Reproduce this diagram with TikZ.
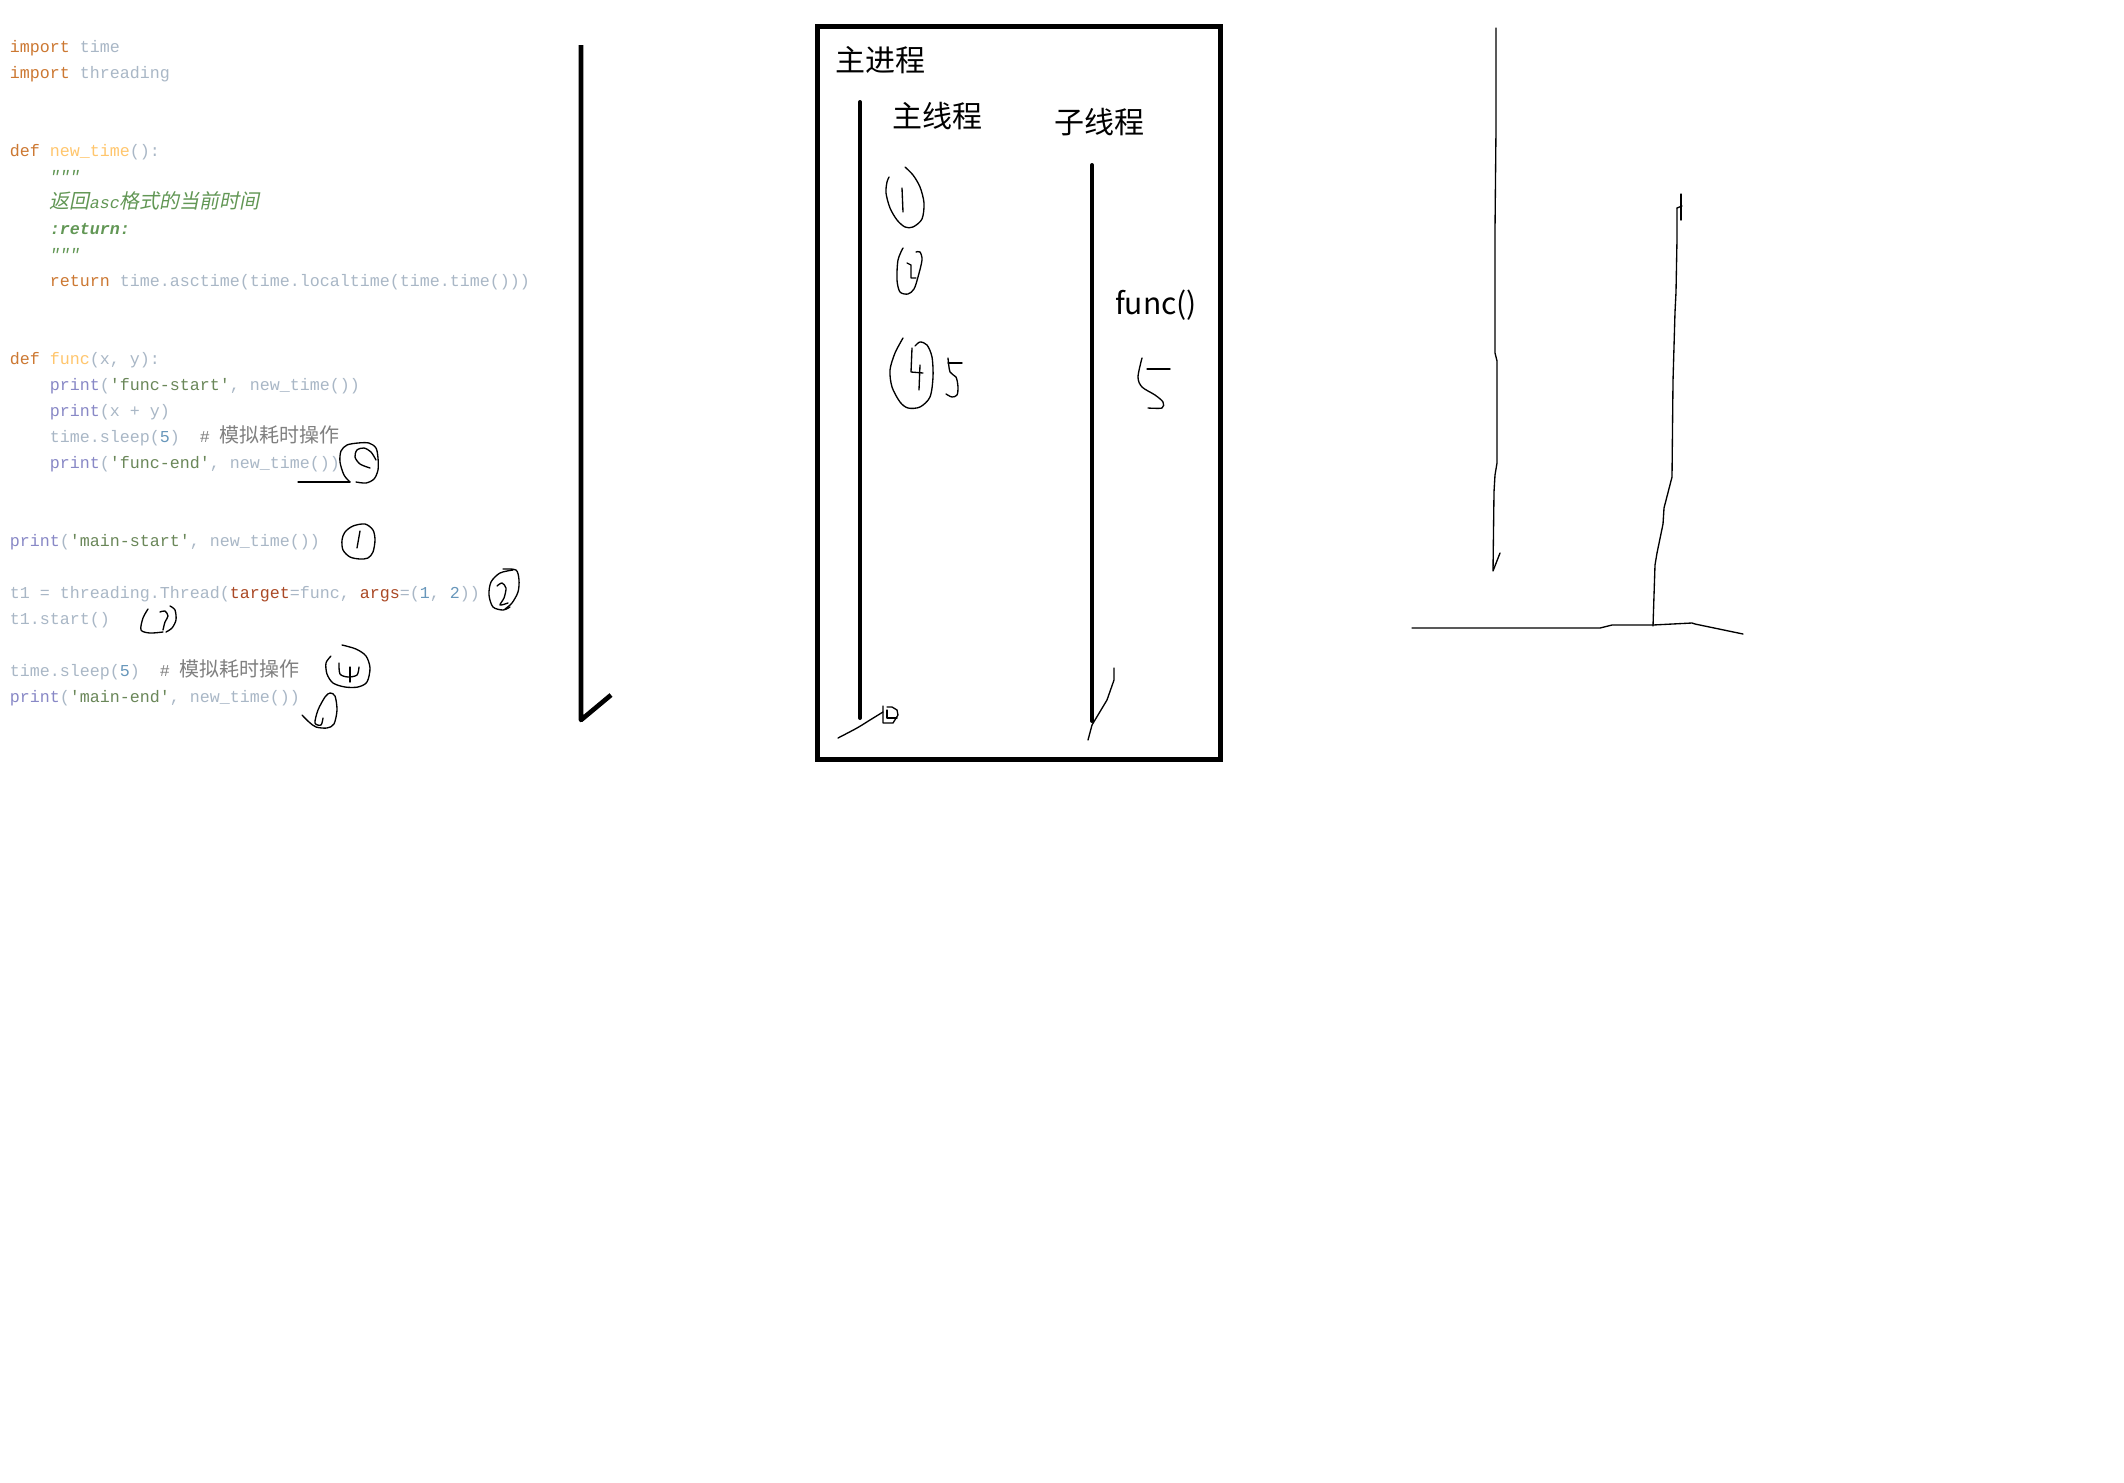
\documentclass[tikz,border=0pt]{standalone}
\usepackage{fontspec}
\newfontfamily\codefont{Liberation Mono}
\newfontfamily\codecjk[Scale=1.2]{Noto Sans CJK SC}
\newfontfamily\codecjkit[Scale=1.2,FakeSlant=0.2]{Noto Sans CJK SC}
\newfontfamily\cjk{Noto Sans CJK SC}
\definecolor{pykwc}{HTML}{CC7832}
\definecolor{pyidc}{HTML}{A9B7C6}
\definecolor{pyfnc}{HTML}{FFC66D}
\definecolor{pydocc}{HTML}{629755}
\definecolor{pybic}{HTML}{8888C6}
\definecolor{pystrc}{HTML}{6A8759}
\definecolor{pynumc}{HTML}{6897BB}
\definecolor{pycmtc}{HTML}{808080}
\definecolor{pyargc}{HTML}{AA4926}
\newcommand\pykw[1]{\textcolor{pykwc}{#1}}
\newcommand\pyfn[1]{\textcolor{pyfnc}{#1}}
\newcommand\pydoc[1]{\textcolor{pydocc}{#1}}
\newcommand\pybi[1]{\textcolor{pybic}{#1}}
\newcommand\pystr[1]{\textcolor{pystrc}{#1}}
\newcommand\pynum[1]{\textcolor{pynumc}{#1}}
\newcommand\pycmt[1]{\textcolor{pycmtc}{#1}}
\newcommand\pyarg[1]{\textcolor{pyargc}{#1}}
\tikzset{
  code/.style={anchor=base west, inner sep=0pt, text=pyidc, font={\codefont\fontsize{12.5}{15}\selectfont}},
  heading/.style={inner sep=0pt, font={\cjk\fontsize{22.5}{27}\selectfont}},
  pen/.style={line width=1pt, line cap=round, line join=round},
  bar/.style={line width=3pt, line cap=round}
}
\begin{document}
\begin{tikzpicture}[x=0.75pt, y=-0.75pt]
 \fill[white] (0,0) rectangle (2124,1482);
 \useasboundingbox (0,0) rectangle (2124,1482);
 % code
 \node[code] (ln0) at (9.5,52.5) {\pykw{import} time};
 \node[code] (ln1) at (9.5,78.5) {\pykw{import} threading};
 \node[code] (ln4) at (9.5,156.5) {\pykw{def} \pyfn{new\_time}():};
 \node[code] (ln5) at (49.5,182.5) {\pydoc{\itshape """}};
 \node[code] (ln6) at (49.5,208.5) {\pydoc{\itshape{\codecjkit 返回}asc{\codecjkit 格式的当前时间}}};
 \node[code] (ln7) at (49.5,234.5) {\pydoc{\bfseries\itshape :return:}};
 \node[code] (ln8) at (49.5,260.5) {\pydoc{\itshape """}};
 \node[code] (ln9) at (49.5,286.5) {\pykw{return} time.asctime(time.localtime(time.time()))};
 \node[code] (ln12) at (9.5,364.5) {\pykw{def} \pyfn{func}(x, y):};
 \node[code] (ln13) at (49.5,390.5) {\pybi{print}(\pystr{'func-start'}, new\_time())};
 \node[code] (ln14) at (49.5,416.5) {\pybi{print}(x + y)};
 \node[code] (ln15) at (49.5,442.5) {time.sleep(\pynum{5})~~\pycmt{\# {\codecjk 模拟耗时操作}}};
 \node[code] (ln16) at (49.5,468.5) {\pybi{print}(\pystr{'func-end'}, new\_time())};
 \node[code] (ln19) at (9.5,546.5) {\pybi{print}(\pystr{'main-start'}, new\_time())};
 \node[code] (ln21) at (9.5,598.5) {t1 = threading.Thread(\pyarg{target}=func, \pyarg{args}=(\pynum{1}, \pynum{2}))};
 \node[code] (ln22) at (9.5,624.5) {t1.start()};
 \node[code] (ln24) at (9.5,676.5) {time.sleep(\pynum{5})~~\pycmt{\# {\codecjk 模拟耗时操作}}};
 \node[code] (ln25) at (9.5,702.5) {\pybi{print}(\pystr{'main-end'}, new\_time())};
 % marks on the code
 \draw[pen] (298,482) -- (350,482);
 \draw[pen] plot[smooth] coordinates {(350,482) (344,475) (340,462) (341,451) (347,445) (358,443) (369,443) (376,448) (378,458) (378,470) (374,479) (366,483) (356,482)};
 \draw[pen] plot[smooth] coordinates {(370,468) (360,464) (355,457) (357,450) (364,448) (371,452) (376,460)};
 \draw[pen] plot[smooth cycle] coordinates {(365,524) (353,526) (345,532) (342,540) (343,550) (350,557) (360,559) (368,558) (373,552) (375,540) (373,530)};
 \draw[pen] (360,531) -- (357,548);
 \draw[pen] plot[smooth] coordinates {(513,570) (500,573) (491,582) (489,595) (493,607) (503,610) (510,607)};
 \draw[pen] plot[smooth] coordinates {(503,569) (516,570) (519,580) (518,592) (512,603) (505,609)};
 \draw[pen] plot[smooth] coordinates {(497,586) (502,583) (506,588) (504,598) (500,605) (508,603)};
 \draw[pen] plot[smooth] coordinates {(148,609) (143,618) (141,630) (150,633) (163,632)};
 \draw[pen] plot[smooth] coordinates {(160,612) (165,611) (168,616) (165,622) (163,630)};
 \draw[pen] plot[smooth] coordinates {(170,606) (175,610) (176,620) (172,628) (166,632)};
 \draw[pen] plot[smooth] coordinates {(342,645) (356,649) (366,656) (370,668) (367,682) (358,687) (345,687) (333,683) (327,674) (326,663) (331,656)};
 \draw[pen] plot[smooth] coordinates {(339,663) (340,674) (348,677) (357,675) (359,667)};
 \draw[pen] (350,667) -- (350,682);
 \draw[pen] plot[smooth] coordinates {(302,715) (309,722) (316,727) (327,728) (334,724) (337,710) (335,696) (330,693) (325,697) (318,710) (315,723) (321,725) (323,718)};
 % long arrow-like line
 \draw[line width=3.5pt, line join=round] (581,45) -- (581,720) -- (611,695);
 % process box
 \draw[line width=3.75pt] (817.5,26) rectangle (1220.5,759.5);
 \node[heading] (proc) at (880,60) {主进程};
 \node[heading] (mainth) at (937.5,116.5) {主线程};
 \node[heading] (subth) at (1099,122) {子线程};
 \node[heading] (fcall) at (1156,305) {func()};
 \draw[bar] (860,102) -- (860,718);
 \draw[bar] (1092,165) -- (1092,721);
 % marks in the box
 \draw[pen] plot[smooth] coordinates {(905,167) (913,175) (920,187) (924,203) (922,219) (913,227) (905,227) (897,220) (890,208) (886,193) (887,182) (889,177)};
 \draw[pen] (902,188) -- (903,212);
 \draw[pen] plot[smooth] coordinates {(903,248) (898,260) (897,280) (900,292) (908,294) (914,289) (918,277) (922,260) (920,252) (916,252)};
 \draw[pen] (907,263) -- (911,265) -- (911,278) -- (916,278);
 \draw[pen] plot[smooth] coordinates {(903,338) (895,353) (890,370) (892,387) (900,402) (908,408) (920,407) (930,397) (933,377) (932,357) (927,345) (920,342) (915,346)};
 \draw[pen] (912,348) -- (911,372) -- (923,373);
 \draw[pen] (920,365) -- (919,390);
 \draw[pen] (948,363) -- (962,363);
 \draw[pen] plot[smooth] coordinates {(948,358) (950,372) (956,377) (958,387) (957,395) (952,397) (946,394)};
 \draw[pen] (1147,369) -- (1170,369);
 \draw[pen] plot[smooth] coordinates {(1142,358) (1138,377) (1142,387) (1155,395) (1163,402) (1162,408) (1148,408)};
 \draw[pen] plot[smooth] coordinates {(838,738) (857,728) (870,720) (883,712)};
 \draw[pen] (883,706) -- (883,723) -- (893,723) -- (898,715) -- (897,710) -- (892,707) -- (887,707);
 \draw[pen] (887,710) -- (887,718) -- (897,718);
 \draw[pen] (1114,668) -- (1114,680) -- (1107,700) -- (1098,715) -- (1092,725) -- (1088,740);
 % right sketch
 \draw[pen] (1496,28) -- (1496,128) -- (1495,230) -- (1495,353) -- (1497,361) -- (1497,463) -- (1495,475) -- (1494,492) -- (1493,571) -- (1500,553);
 \draw[pen] (1681,194) -- (1681,220);
 \draw[pen] (1677,208) -- (1682,206);
 \draw[pen] (1677,208) -- (1677,239) -- (1676,292) -- (1675,312) -- (1673,381) -- (1672,477) -- (1664,508) -- (1663,524) -- (1657,553) -- (1655,565) -- (1653,626);
 \draw[pen] (1412,628) -- (1600,628) -- (1612,625) -- (1653,625) -- (1692,623) -- (1695,624) -- (1743,634);
\end{tikzpicture}
\end{document}
